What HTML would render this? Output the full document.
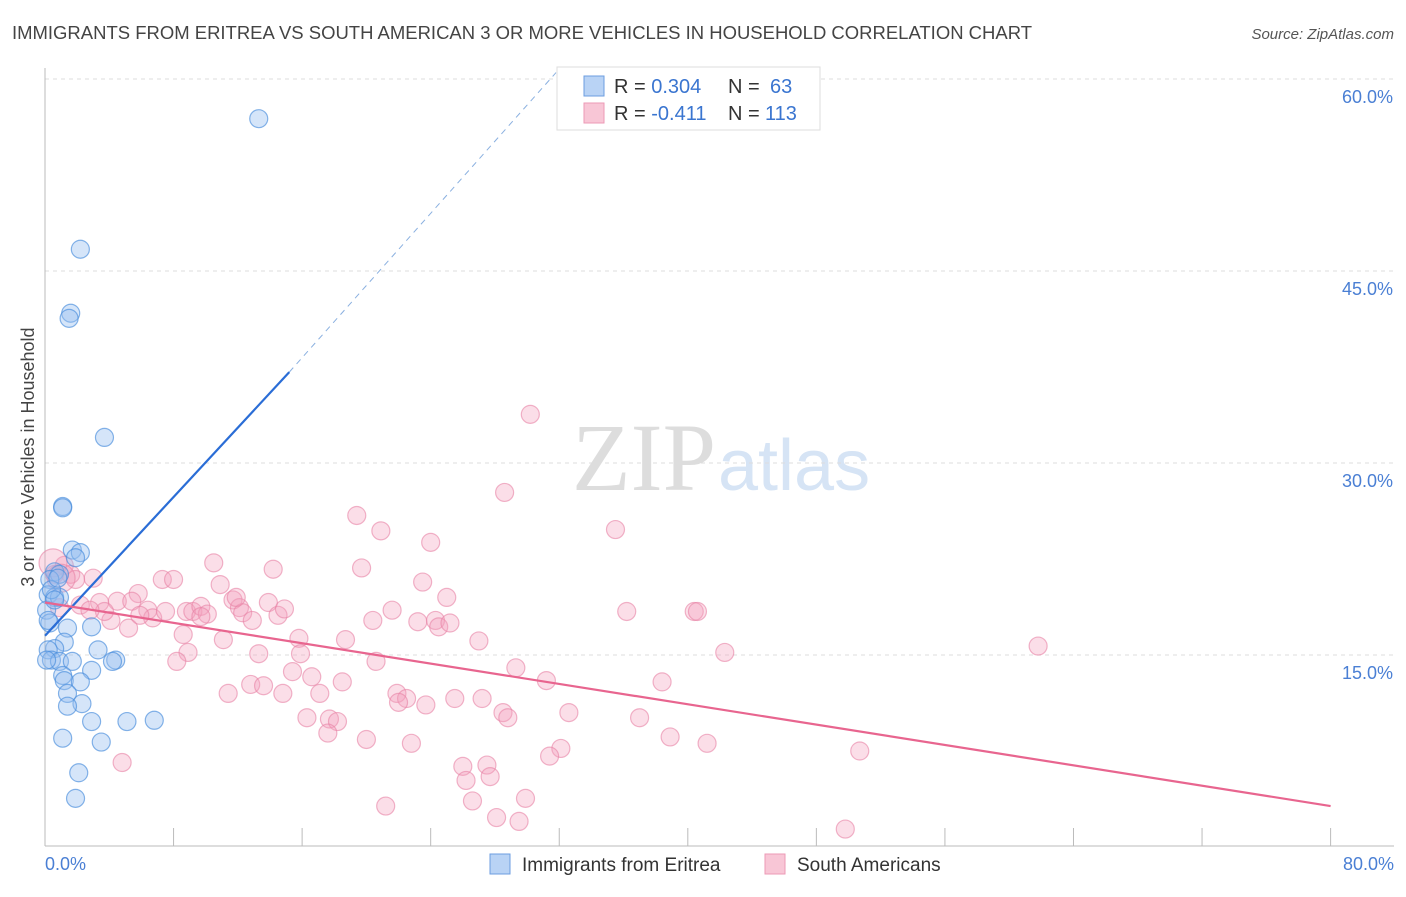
<!DOCTYPE html>
<html><head><meta charset="utf-8"><style>
body{margin:0;background:#fff;font-family:"Liberation Sans",sans-serif;}
</style></head><body>
<svg id="chart" width="1406" height="892" xmlns="http://www.w3.org/2000/svg" font-family="Liberation Sans, sans-serif">
<text x="12" y="39" font-size="18" fill="#444" textLength="1020" lengthAdjust="spacingAndGlyphs">IMMIGRANTS FROM ERITREA VS SOUTH AMERICAN 3 OR MORE VEHICLES IN HOUSEHOLD CORRELATION CHART</text>
<text x="1394" y="39" font-size="15" fill="#555" text-anchor="end" font-style="italic">Source: ZipAtlas.com</text>
<text x="716" y="490" font-size="96" text-anchor="end" fill="#ddd" font-family="Liberation Serif, serif">ZIP</text>
<text x="718" y="490" font-size="72" fill="#d6e4f5">atlas</text>
<text transform="translate(34,457) rotate(-90)" font-size="18" fill="#444" text-anchor="middle">3 or more Vehicles in Household</text>
<g id="grid"></g><g id="axes"></g><g id="marks"></g><g id="lines"></g>
<g>
<rect x="557" y="67" width="263" height="63" fill="#fff" stroke="#ddd"/>
<rect x="584" y="76" width="20" height="20" fill="#b9d3f5" stroke="#6c9ee0"/>
<rect x="584" y="103" width="20" height="20" fill="#f8c6d6" stroke="#ec9ab6"/>
<text x="614" y="93" font-size="20" fill="#333">R = <tspan fill="#3a75d0">0.304</tspan><tspan x="728">N = </tspan><tspan fill="#3a75d0" x="770">63</tspan></text>
<text x="614" y="120" font-size="20" fill="#333">R = <tspan fill="#3a75d0">-0.411</tspan><tspan x="728">N = </tspan><tspan fill="#3a75d0" x="765">113</tspan></text>
</g>
<g>
<rect x="490" y="854" width="20" height="20" fill="#b9d3f5" stroke="#6c9ee0"/>
<text x="522" y="871" font-size="19" fill="#333">Immigrants from Eritrea</text>
<rect x="765" y="854" width="20" height="20" fill="#f8c6d6" stroke="#ec9ab6"/>
<text x="797" y="871" font-size="19" fill="#333">South Americans</text>
</g>
</svg>
<script>
const yTicks=[15,30,45,60];
const yTickLabels=["15.0%","30.0%","45.0%","60.0%"];
const xTickLabels=["0.0%","80.0%"];
const blueX=[13.3,2.2,1.6,1.5,3.7,1.1,1.1,1.7,2.2,1.9,0.6,0.9,0.3,0.2,0.6,0.9,0.1,0.3,1.4,2.9,1.2,0.6,0.2,0.4,0.9,1.7,3.3,4.4,4.2,2.9,1.1,1.2,2.2,1.4,2.3,1.4,2.9,5.1,6.8,1.1,3.5,2.1,1.9,0.2,0.1,0.4,0.8,0.6];
const blueY=[56.9,46.7,41.7,41.3,32.0,26.6,26.5,23.2,23.0,22.6,21.5,21.3,20.9,19.7,19.5,19.5,18.5,17.5,17.1,17.2,16.0,15.5,15.4,14.6,14.5,14.5,15.4,14.6,14.5,13.8,13.4,13.0,12.9,12.0,11.2,11.0,9.8,9.8,9.9,8.5,8.2,5.8,3.8,17.7,14.6,20.1,21.0,19.3];
const pinkX=[30.2,28.6,19.4,20.9,24.0,35.5,10.5,14.2,19.7,3.0,7.3,8.0,10.9,23.5,5.8,25.0,1.2,0.6,1.6,1.9,3.4,4.5,5.4,6.4,6.7,7.5,8.8,9.2,9.7,10.1,11.7,12.1,12.3,11.9,13.9,14.5,14.9,21.6,23.2,24.3,24.5,25.2,20.4,36.2,40.4,40.6,4.1,5.2,8.6,11.1,15.8,18.7,27.0,42.3,8.9,8.2,13.3,15.9,20.6,29.3,15.4,16.6,18.5,31.2,38.4,12.8,13.6,11.4,14.8,17.1,21.9,22.5,22.0,23.7,25.5,27.2,28.5,28.8,32.6,37.0,16.3,17.7,18.2,17.6,20.0,22.8,38.9,41.2,32.1,31.4,50.7,4.8,26.0,27.5,26.2,27.7,26.6,29.9,21.2,28.1,29.5,49.8,61.8,2.2,0.9,3.7,2.8,5.9,9.7,12.9,0.5,1.0];
const pinkY=[33.8,27.7,25.9,24.7,23.8,24.8,22.2,21.7,21.8,21.0,20.9,20.9,20.5,20.7,19.8,19.5,22.0,21.3,21.3,20.9,19.1,19.2,19.2,18.5,17.9,18.4,18.4,18.4,18.8,18.2,19.3,18.7,18.3,19.5,19.1,18.1,18.6,18.5,17.6,17.7,17.2,17.5,17.7,18.4,18.4,18.4,17.7,17.1,16.6,16.2,16.3,16.2,16.1,15.2,15.2,14.5,15.1,15.1,14.5,14.0,13.7,13.3,12.9,13.0,12.9,12.7,12.6,12.0,12.0,12.0,12.0,11.6,11.3,11.1,11.6,11.6,10.5,10.1,10.5,10.1,10.1,10.0,9.8,8.9,8.4,8.1,8.6,8.1,7.7,7.1,7.5,6.6,6.3,6.4,5.2,5.5,3.6,3.8,3.2,2.3,2.0,1.4,15.7,18.9,18.7,18.4,18.5,18.1,18.0,17.7,22.2,21.0];
const blueTrend=[[0,16.5],[15.2,37.1]];
const blueDash=[[15.2,37.1],[31.8,60.5]];
const pinkTrend=[[0,19.1],[80,3.2]];
const NS="http://www.w3.org/2000/svg";
const xs=v=>45+v*16.07, ys=v=>847-v*12.8;
function mk(tag,attrs,parent){const e=document.createElementNS(NS,tag);for(const k in attrs)e.setAttribute(k,attrs[k]);parent.appendChild(e);return e;}
const grid=document.getElementById('grid'),axes=document.getElementById('axes'),marks=document.getElementById('marks'),lines=document.getElementById('lines');
yTicks.forEach((t,i)=>{
 const g=mk('line',{x1:45,x2:1394,y1:ys(t),y2:ys(t),stroke:'#ddd','stroke-dasharray':'4,4'},grid);
 
 
 const tx=mk('text',{x:1393,y:ys(t)+24,'font-size':18,fill:'#4a7fd4','text-anchor':'end'},axes);
 tx.textContent=yTickLabels[i];
 
 
});
const topGrid=mk('line',{x1:45,x2:1394,y1:79,y2:79,stroke:'#ddd','stroke-dasharray':'4,4'},grid);


const ya=mk('line',{x1:45,x2:45,y1:68,y2:846,stroke:'#bbb'},axes);


const xa=mk('line',{x1:45,x2:1394,y1:846,y2:846,stroke:'#bbb'},axes);


for(let v=8;v<=80;v+=8){
 const tk=mk('line',{x1:xs(v),x2:xs(v),y1:828,y2:846,stroke:'#bbb'},axes);
 
 
}
[[0,'start',45],[80,'end',1394]].forEach((a,i)=>{
 const tx=mk('text',{x:a[2],y:870,'font-size':18,fill:'#4a7fd4','text-anchor':a[1]},axes);
 tx.textContent=xTickLabels[i];
 
 
});
pinkX.forEach((x,i)=>{
 const c=mk('circle',{cx:xs(x),cy:ys(pinkY[i]),r:i>=pinkX.length-2?14:9,fill:'rgba(244,160,190,0.35)',stroke:'rgba(232,130,165,0.6)','stroke-width':1.2},marks);
 
 
});
blueX.forEach((x,i)=>{
 const c=mk('circle',{cx:xs(x),cy:ys(blueY[i]),r:9,fill:'rgba(150,190,240,0.4)',stroke:'rgba(70,140,220,0.65)','stroke-width':1.2},marks);
 
 
});
const bl=mk('line',{x1:xs(blueTrend[0][0]),y1:ys(blueTrend[0][1]),x2:xs(blueTrend[1][0]),y2:ys(blueTrend[1][1]),stroke:'#2a6dd6','stroke-width':2.2},lines);


const bd=mk('line',{x1:xs(blueDash[0][0]),y1:ys(blueDash[0][1]),x2:xs(blueDash[1][0]),y2:ys(blueDash[1][1]),stroke:'#8ab0e0','stroke-width':1,'stroke-dasharray':'6,5'},lines);


const pl=mk('line',{x1:xs(pinkTrend[0][0]),y1:ys(pinkTrend[0][1]),x2:xs(pinkTrend[1][0]),y2:ys(pinkTrend[1][1]),stroke:'#e8658f','stroke-width':2.2},lines);


</script>
</body></html>
